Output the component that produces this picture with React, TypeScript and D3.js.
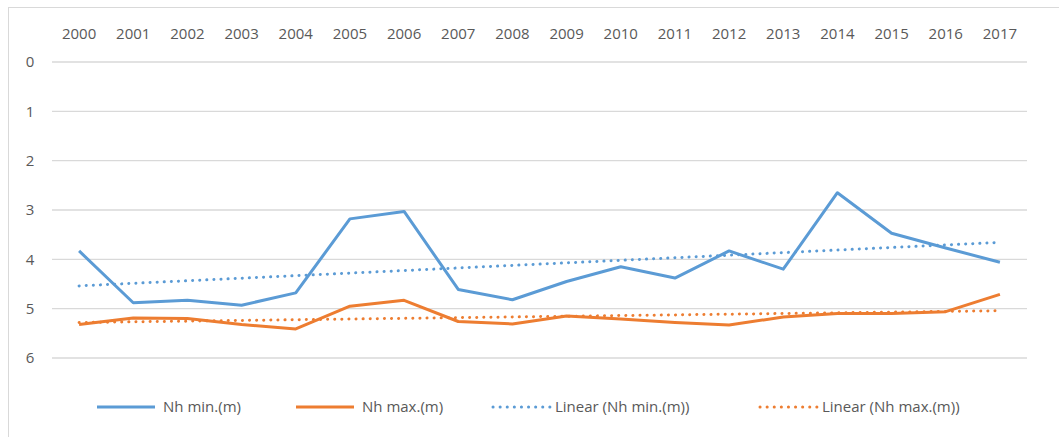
import React from 'react';
import * as d3 from 'd3';

// values (depth, m)
const years = [
  '2000', '2001', '2002', '2003', '2004', '2005', '2006', '2007', '2008',
  '2009', '2010', '2011', '2012', '2013', '2014', '2015', '2016', '2017',
];
const nhMin = [3.83, 4.88, 4.83, 4.93, 4.68, 3.18, 3.03, 4.61, 4.82, 4.45, 4.15, 4.38, 3.83, 4.2, 2.65, 3.47, 3.77, 4.06];
const nhMax = [5.32, 5.19, 5.2, 5.32, 5.41, 4.95, 4.83, 5.26, 5.31, 5.15, 5.21, 5.28, 5.33, 5.17, 5.1, 5.1, 5.06, 4.71];
const yTicks = [0, 1, 2, 3, 4, 5, 6];

const BLUE = '#5b9bd5';
const ORANGE = '#ed7d31';
const TEXT = '#595959';
const GRID = '#d9d9d9';
const FONT = '"Open Sans", "Liberation Sans", sans-serif';

const width = 1059;
const height = 437;
const margin = { left: 52, right: 32, top: 62 };

// least squares fit over year index, like Excel's linear trendline
const trend = (vals: number[]) => {
  const xs = vals.map((_, i) => i);
  const mx = d3.mean(xs)!;
  const my = d3.mean(vals)!;
  const slope = d3.sum(xs, (x, i) => (x - mx) * (vals[i] - my)) / d3.sum(xs, x => (x - mx) ** 2);
  return xs.map(x => my + slope * (x - mx));
};

const App: React.FC = () => {
  const x = d3.scaleBand<string>().domain(years).range([margin.left, width - margin.right]);
  const y = d3.scaleLinear().domain([0, 6]).range([margin.top, 358]);
  const cx = (i: number) => x(years[i])! + x.bandwidth() / 2;

  const line = d3.line<number>().x((_, i) => cx(i)).y(d => y(d));

  const series = [
    { name: 'Nh min.(m)', vals: nhMin, color: BLUE, dotted: false },
    { name: 'Nh max.(m)', vals: nhMax, color: ORANGE, dotted: false },
    { name: 'Linear (Nh min.(m))', vals: trend(nhMin), color: BLUE, dotted: true },
    { name: 'Linear (Nh max.(m))', vals: trend(nhMax), color: ORANGE, dotted: true },
  ];
  const legendX = [97, 296, 493, 760];

  return (
    <svg width={width} height={height} style={{ position: 'absolute', left: 0, top: 0, background: '#fff' }}>
      {/* chart border (runs off the picture on right/bottom) */}
      <rect x={8.5} y={7.5} width={width + 20} height={height + 20} fill="none" stroke={GRID} />

      {/* gridlines + y labels */}
      {yTicks.map(t => (
        <g key={t}>
          <line x1={margin.left} x2={width - margin.right} y1={y(t)} y2={y(t)} stroke={GRID} strokeWidth={1.3} />
          <text x={30} y={y(t)} dy="0.35em" textAnchor="middle" fontFamily={FONT} fontSize={15} fill={TEXT}>{t}</text>
        </g>
      ))}

      {/* x labels on top */}
      {years.map((yr, i) => (
        <text key={yr} x={cx(i)} y={34} dy="0.35em" textAnchor="middle" fontFamily={FONT} fontSize={15} fill={TEXT}>{yr}</text>
      ))}

      {/* trendlines under data lines */}
      {series.filter(s => s.dotted).map(s => (
        <path key={s.name} d={line(s.vals)!} fill="none" stroke={s.color} strokeWidth={3}
          strokeDasharray="0.1 7" strokeLinecap="round" />
      ))}
      {series.filter(s => !s.dotted).map(s => (
        <path key={s.name} d={line(s.vals)!} fill="none" stroke={s.color} strokeWidth={3}
          strokeLinejoin="round" />
      ))}

      {/* legend */}
      {series.map((s, i) => (
        <g key={s.name} transform={`translate(${legendX[i]},407)`}>
          <line x1={0} x2={58} y1={0} y2={0} stroke={s.color} strokeWidth={3}
            strokeDasharray={s.dotted ? '0.1 7' : undefined} strokeLinecap={s.dotted ? 'round' : 'butt'} />
          <text x={s.dotted ? 62 : 66} y={0} dy="0.35em" fontFamily={FONT} fontSize={15} fill={TEXT}>{s.name}</text>
        </g>
      ))}
    </svg>
  );
};

export default App;
